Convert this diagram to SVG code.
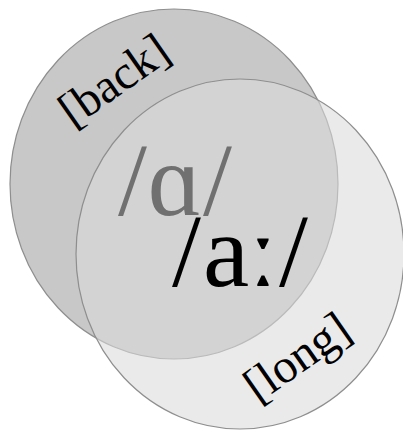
<svg xmlns="http://www.w3.org/2000/svg" width="403" height="430" viewBox="0 0 403 430">
<style>
.c{stroke:#8e8e8e;stroke-width:1.2}
.t{font-family:"Liberation Serif","DejaVu Serif",serif}
.lbl{font-size:48px;fill:#000}
.big{font-size:104px}
.g{fill:#707070}
.k{fill:#000}
</style>
<rect width="403" height="430" fill="#ffffff"/>
<g id="back">
<ellipse class="c" cx="174" cy="184" rx="164" ry="175" fill="#c8c8c8"/>
<text class="t lbl" x="123" y="93" text-anchor="middle" transform="rotate(-35 123 93)">[back]</text>
</g>
<g id="long">
<ellipse class="c" cx="240" cy="254" rx="164" ry="175" fill="#dadada" fill-opacity="0.58"/>
<text class="t lbl" x="306" y="370" text-anchor="middle" transform="rotate(-35 306 370)">[long]</text>
</g>
<g id="short-a">
<text class="t big g" x="118" y="215">/</text>
<text class="t big g" x="175" y="215" text-anchor="middle">ɑ</text>
<text class="t big g" x="203" y="215">/</text>
</g>
<g id="long-a">
<text class="t big k" x="172" y="286">/</text>
<text class="t big k" x="226" y="286" text-anchor="middle">a</text>
<text class="t big k" x="263" y="286" text-anchor="middle">ː</text>
<text class="t big k" x="279" y="286">/</text>
</g>
</svg>
